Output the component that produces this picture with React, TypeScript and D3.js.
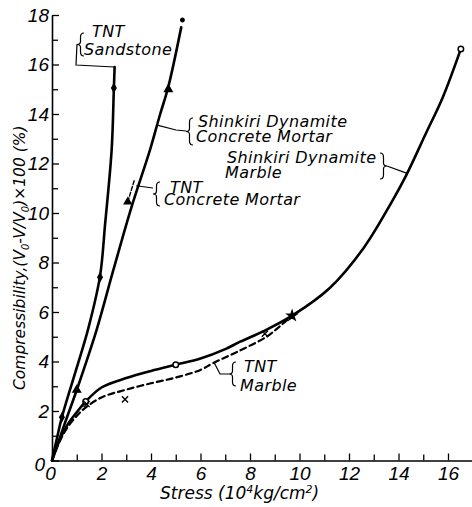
import React, { useEffect, useRef } from "react";
import * as d3 from "d3";

type Pt = [number, number];

// stress (10^4 kg/cm2) vs compressibility (%)
const sandstoneTNT: Pt[] = [
  [0, 0], [0.2, 0.9], [0.4, 1.75], [1.0, 3.75], [1.47, 5.35], [1.94, 7.45],
  [2.15, 9.6], [2.41, 12.55], [2.5, 15.05], [2.53, 15.9],
];
const sandstoneTNTPts: Pt[] = [[0.4, 1.75], [1.94, 7.4], [2.5, 15.05]];

const mortarDynamite: Pt[] = [
  [0, 0], [0.5, 1.45], [1.0, 2.85], [1.8, 5.27], [2.48, 7.7], [3.2, 10.2],
  [3.96, 12.55], [4.36, 13.96], [4.7, 15.1], [5.22, 17.5],
];
const mortarDynamitePts: Pt[] = [[1.0, 2.85], [4.7, 15.0]];
const mortarDynamiteTop: Pt[] = [[5.27, 17.8]];

const mortarTNT: Pt[] = [[3.06, 10.45], [3.32, 11.3]];
const mortarTNTPts: Pt[] = [[3.06, 10.45]];

const marbleDynamite: Pt[] = [
  [0, 0], [0.3, 0.8], [0.6, 1.4], [1.0, 1.95], [1.36, 2.38], [2, 2.95],
  [3, 3.33], [4, 3.62], [5, 3.87], [6, 4.12], [7, 4.5], [7.6, 4.8],
  [8.6, 5.25], [9.7, 5.85], [11.2, 6.95], [12.6, 8.6], [13.7, 10.4],
  [14.3, 11.5], [15.1, 13.2], [15.8, 14.7], [16.52, 16.63],
];
const marbleDynamitePts: Pt[] = [[1.36, 2.38], [5.0, 3.87], [16.52, 16.63]];
const marbleSharedPts: Pt[] = [[9.7, 5.85]];

const marbleTNT: Pt[] = [
  [0, 0], [0.3, 0.75], [0.6, 1.3], [1.0, 1.8], [1.33, 2.12], [2, 2.55],
  [2.95, 2.85], [4, 3.12], [5, 3.35], [6, 3.66], [6.5, 3.93], [7.5, 4.4],
  [8.67, 5.0], [9.2, 5.42], [9.7, 5.85],
];
const marbleTNTPts: Pt[] = [[1.4, 2.28], [2.95, 2.47], [8.6, 5.12]];

const xMajor = [0, 2, 4, 6, 8, 10, 12, 14, 16];
const xMinor = [1, 3, 5, 7, 9, 11, 13, 15];
const yMajor = [0, 2, 4, 6, 8, 10, 12, 14, 16, 18];
const yMinor = [1, 3, 5, 7, 9, 11, 13, 15, 17];

const FONT = "'DejaVu Sans', sans-serif";

// brace path, tip at (x - 2*dir*w, middle)
const bracePath = (x: number, y0: number, y1: number, dir: number) => {
  const w = 3.5 * dir;
  const m = (y0 + y1) / 2;
  return `M${x},${y0} Q${x - w},${y0} ${x - w},${y0 + 4} L${x - w},${m - 3} Q${x - w},${m} ${x - 2 * w},${m} Q${x - w},${m} ${x - w},${m + 3} L${x - w},${y1 - 4} Q${x - w},${y1} ${x},${y1}`;
};

export default function App() {
  const svgRef = useRef<SVGSVGElement>(null);

  useEffect(() => {
    if (!svgRef.current) return;
    const svg = d3.select(svgRef.current);
    svg.selectAll("*").remove();

    const x = d3.scaleLinear().domain([0, 17]).range([52, 472.75]);
    const y = d3.scaleLinear().domain([0, 18]).range([460.5, 15]);

    // axes, ticks pointing inward
    const yg = svg.append("g").attr("transform", `translate(${x(0)},0)`);
    yg.call(
      d3.axisLeft(y).tickValues(yMajor).tickSize(-7).tickSizeOuter(0).tickPadding(3)
    );
    yg.append("g")
      .call(d3.axisLeft(y).tickValues(yMinor).tickSize(-6).tickFormat(() => ""))
      .select(".domain")
      .remove();

    const xg = svg.append("g").attr("transform", `translate(0,${y(0)})`);
    xg.call(
      d3.axisBottom(x).tickValues(xMajor).tickSize(-7).tickSizeOuter(0).tickPadding(6)
    );
    xg.append("g")
      .call(d3.axisBottom(x).tickValues(xMinor).tickSize(-6).tickFormat(() => ""))
      .select(".domain")
      .remove();

    svg.selectAll(".domain").attr("stroke", "#000").attr("stroke-width", 1.6);
    svg.selectAll(".tick line").attr("stroke", "#000").attr("stroke-width", 1.3);
    svg
      .selectAll(".tick text")
      .attr("fill", "#000")
      .style("font-family", "'Liberation Sans', sans-serif")
      .style("font-style", "italic")
      .style("font-size", "19px");
    yg.selectAll(".tick text").filter((d: any) => d === 0).attr("dx", -4).attr("dy", "0.5em");
    xg.selectAll(".tick text").filter((d: any) => d === 0).attr("dx", -2);

    // curves
    const line = d3
      .line<Pt>()
      .x((d) => x(d[0]))
      .y((d) => y(d[1]))
      .curve(d3.curveCatmullRom.alpha(0.5));

    const addCurve = (data: Pt[], width: number, dash?: string) =>
      svg
        .append("path")
        .attr("d", line(data))
        .attr("fill", "none")
        .attr("stroke", "#000")
        .attr("stroke-width", width)
        .attr("stroke-dasharray", dash ?? null)
        .attr("stroke-linecap", "round");

    addCurve(sandstoneTNT, 2.6);
    addCurve(mortarDynamite, 2.6);
    addCurve(marbleDynamite, 2.6);
    addCurve(marbleTNT, 2.2, "6,4");
    addCurve(mortarTNT, 1.4, "4,2");

    // markers
    const sym = (
      data: Pt[],
      type: d3.SymbolType,
      size: number,
      fill: string,
      sw = 1.3
    ) =>
      svg
        .append("g")
        .selectAll("path")
        .data(data)
        .join("path")
        .attr("transform", (d) => `translate(${x(d[0])},${y(d[1])})`)
        .attr("d", d3.symbol(type, size)())
        .attr("fill", fill)
        .attr("stroke", "#000")
        .attr("stroke-width", sw);

    sym(sandstoneTNTPts, d3.symbolDiamond, 18, "#000");
    sym(mortarDynamitePts, d3.symbolTriangle, 26, "#000");
    sym(mortarDynamiteTop, d3.symbolCircle, 10, "#000");
    sym(mortarTNTPts, d3.symbolTriangle, 22, "#000");
    sym(marbleDynamitePts, d3.symbolCircle, 24, "#fff", 1.5);
    sym(marbleSharedPts, d3.symbolStar, 30, "#000");
    sym(marbleTNTPts, d3.symbolTimes, 26, "none", 1.4);

    // annotations
    const label = (tx: number, ty: number, s: string) =>
      svg
        .append("text")
        .attr("x", tx)
        .attr("y", ty)
        .style("font-family", FONT)
        .style("font-style", "italic")
        .style("font-size", "16px")
        .style("letter-spacing", "0.4px")
        .attr("fill", "#000")
        .text(s);
    const stroke = (d: string, w = 1.2) =>
      svg.append("path").attr("d", d).attr("fill", "none").attr("stroke", "#000").attr("stroke-width", w);

    label(92, 37, "TNT");
    label(84, 55, "Sandstone");
    stroke(bracePath(84, 33, 56, 1));
    stroke(`M77,44 L76,65 L${x(2.53)},${y(15.9)}`);

    label(198, 127, "Shinkiri Dynamite");
    label(196, 142, "Concrete Mortar");
    stroke(bracePath(193, 118, 145, 1));
    stroke(`M186,131 L176,130 L${x(4.25)},${y(13.55)}`);

    label(227, 163, "Shinkiri Dynamite");
    label(225, 178, "Marble");
    stroke(bracePath(380, 153, 179, -1));
    stroke(`M387,166 L${x(14.35)},${y(11.6)}`);

    label(170, 193, "TNT");
    label(164, 205, "Concrete Mortar");
    stroke(bracePath(160, 182, 206, 1));
    stroke(`M153,188 L${x(3.4)},${y(11.1)}`);

    label(244, 372, "TNT");
    label(240, 391, "Marble");
    stroke(bracePath(236, 362, 386, 1));
    stroke(`M229,374 L220,374 L${x(6.55)},${y(3.96)}`);

    // axis titles
    const xt = svg
      .append("text")
      .attr("x", 160)
      .attr("y", 499)
      .style("font-family", FONT)
      .style("font-style", "italic")
      .style("font-size", "17px")
      .attr("fill", "#000");
    xt.append("tspan").text("Stress (10");
    xt.append("tspan").attr("dy", -6).style("font-size", "11px").text("4");
    xt.append("tspan").attr("dy", 6).text("kg/cm");
    xt.append("tspan").attr("dy", -6).style("font-size", "11px").text("2");
    xt.append("tspan").attr("dy", 6).text(")");

    const yt = svg
      .append("text")
      .attr("transform", "translate(25,390) rotate(-90)")
      .style("font-family", FONT)
      .style("font-style", "italic")
      .style("font-size", "15.5px")
      .attr("fill", "#000");
    yt.append("tspan").text("Compressibility,(V");
    yt.append("tspan").attr("dy", 4).style("font-size", "10px").text("0");
    yt.append("tspan").attr("dy", -4).text("-V/V");
    yt.append("tspan").attr("dy", 4).style("font-size", "10px").text("0");
    yt.append("tspan").attr("dy", -4).text(")×100 (%)");
  }, []);

  return (
    <svg
      ref={svgRef}
      width={472}
      height={507}
      style={{ position: "absolute", left: 0, top: 0, background: "#fff" }}
    />
  );
}
